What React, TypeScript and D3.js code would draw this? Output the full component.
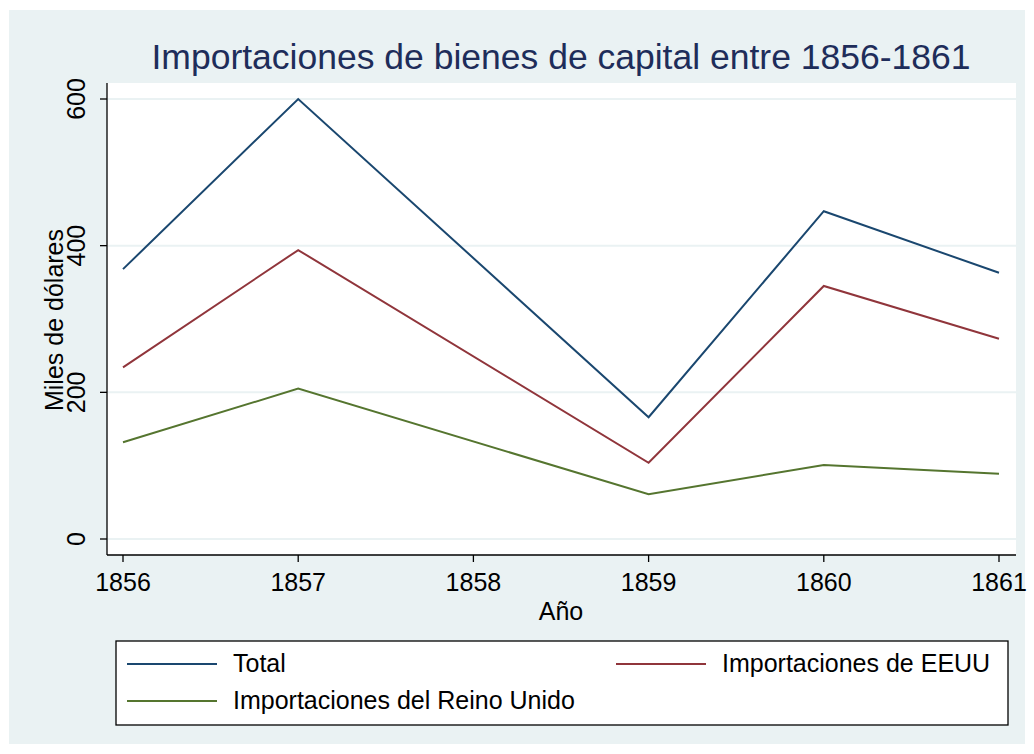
import { useEffect } from 'react';
import * as d3 from 'd3';

const years = [1856, 1857, 1859, 1860, 1861];
const totalValues = [368, 600, 166, 447, 363];
const eeuuValues = [234, 394, 104, 345, 273];
const ukValues = [132, 205, 61, 101, 89];
const xTicks = [1856, 1857, 1858, 1859, 1860, 1861];
const yTicks = [0, 200, 400, 600];

const seriesList = [
  { name: 'Total', values: totalValues, color: '#1a476f' },
  { name: 'Importaciones de EEUU', values: eeuuValues, color: '#90353b' },
  { name: 'Importaciones del Reino Unido', values: ukValues, color: '#55752f' },
];

const WIDTH = 1034;
const HEIGHT = 754;
const FONT = '"Liberation Sans", Arial, Helvetica, sans-serif';

export default function App() {
  useEffect(() => {
    document.body.style.margin = '0';
  }, []);

  const plot = { left: 107, right: 1016, top: 83, bottom: 555 };
  const x = d3.scaleLinear().domain([1856, 1861]).range([123, 999]);
  const y = d3.scaleLinear().domain([0, 600]).range([539, 99]);

  const line = d3
    .line<number>()
    .x((_, i) => x(years[i]))
    .y((v) => y(v));

  // legend slots: two columns, two rows
  const legendSlots = [
    { lx: 127, ty: 664 },
    { lx: 616, ty: 664 },
    { lx: 127, ty: 701 },
  ];

  return (
    <svg width={WIDTH} height={HEIGHT} style={{ display: 'block' }} fontFamily={FONT}>
      <rect x={0} y={0} width={WIDTH} height={HEIGHT} fill="#ffffff" />
      <rect x={9} y={10} width={1016} height={734} fill="#eaf2f3" />
      <rect
        x={plot.left}
        y={plot.top}
        width={plot.right - plot.left}
        height={plot.bottom - plot.top}
        fill="#ffffff"
      />

      {yTicks.map((t) => (
        <line
          key={`g${t}`}
          x1={plot.left}
          x2={plot.right}
          y1={y(t)}
          y2={y(t)}
          stroke="#eaf2f3"
          strokeWidth={2}
        />
      ))}

      {seriesList.map((s) => (
        <path key={s.name} d={line(s.values) ?? ''} fill="none" stroke={s.color} strokeWidth={2} />
      ))}

      <line x1={plot.left} x2={plot.left} y1={plot.top} y2={plot.bottom} stroke="#000" strokeWidth={1.3} />
      <line x1={plot.left} x2={plot.right} y1={plot.bottom} y2={plot.bottom} stroke="#000" strokeWidth={1.3} />

      {yTicks.map((t) => (
        <g key={`yt${t}`}>
          <line x1={plot.left - 7} x2={plot.left} y1={y(t)} y2={y(t)} stroke="#000" strokeWidth={1.3} />
          <text
            transform={`translate(85, ${y(t)}) rotate(-90)`}
            textAnchor="middle"
            fontSize={25}
            fill="#000"
          >
            {t}
          </text>
        </g>
      ))}

      {xTicks.map((t) => (
        <g key={`xt${t}`}>
          <line x1={x(t)} x2={x(t)} y1={plot.bottom} y2={plot.bottom + 7} stroke="#000" strokeWidth={1.3} />
          <text x={x(t)} y={591} textAnchor="middle" fontSize={25} fill="#000">
            {t}
          </text>
        </g>
      ))}

      <text x={561} y={620} textAnchor="middle" fontSize={25} fill="#000">
        Año
      </text>
      <text transform="translate(63, 320) rotate(-90)" textAnchor="middle" fontSize={25} fill="#000">
        Miles de dólares
      </text>

      <text x={561} y={69} textAnchor="middle" fontSize={35.5} fill="#1e2d5a">
        Importaciones de bienes de capital entre 1856-1861
      </text>

      <rect x={116} y={641} width={892} height={84} fill="#ffffff" stroke="#000" strokeWidth={1.3} />
      {seriesList.map((s, i) => (
        <g key={`lg${s.name}`}>
          <line
            x1={legendSlots[i].lx}
            x2={legendSlots[i].lx + 90}
            y1={legendSlots[i].ty}
            y2={legendSlots[i].ty}
            stroke={s.color}
            strokeWidth={2}
          />
          <text x={legendSlots[i].lx + 106} y={legendSlots[i].ty + 8} fontSize={25} fill="#000">
            {s.name}
          </text>
        </g>
      ))}
    </svg>
  );
}
